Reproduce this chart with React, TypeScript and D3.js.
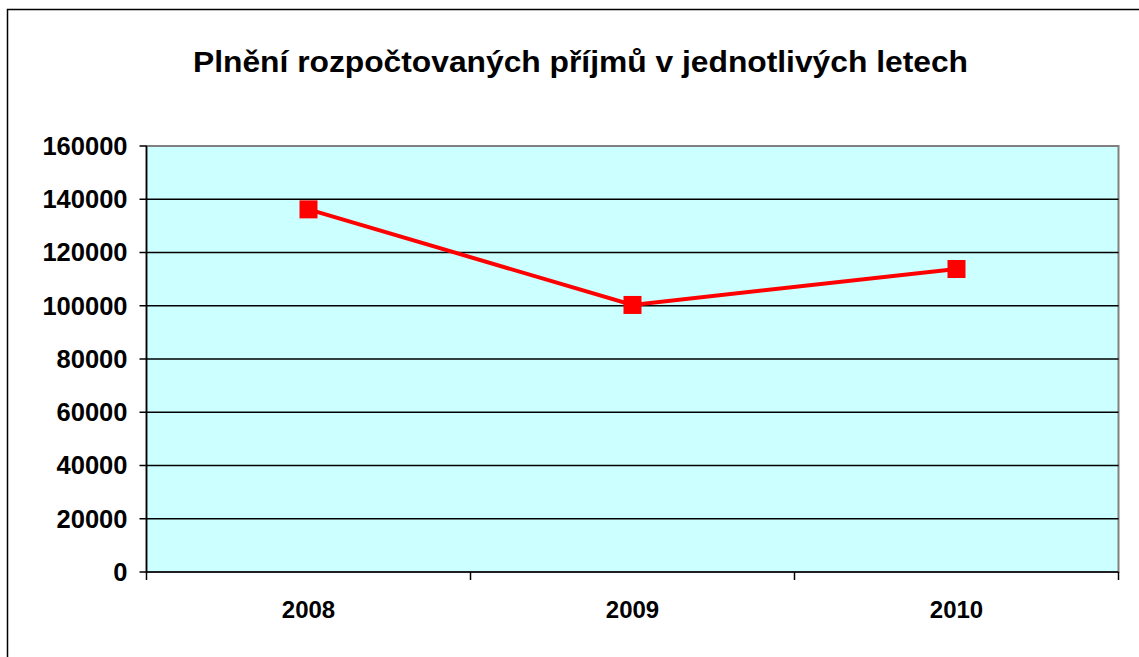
import React from "react";
import * as d3 from "d3";

const title = "Plnění rozpočtovaných příjmů v jednotlivých letech";
const years = ["2008", "2009", "2010"];
const values = [136200, 100300, 113800];
const yTicks = [0, 20000, 40000, 60000, 80000, 100000, 120000, 140000, 160000];

export default function App() {
  const W = 1139, H = 657;
  const left = 146.5, right = 1118.5, top = 146, bottom = 572;
  const x = d3.scaleBand<string>().domain(years).range([left, right]);
  const y = d3.scaleLinear().domain([0, 160000]).range([bottom, top]);
  const line = d3.line<number>()
    .x((_, i) => (x(years[i]) as number) + x.bandwidth() / 2)
    .y((d) => y(d));
  const font = "'Liberation Sans', Arial, sans-serif";
  const boundaries = [...years.map((c) => x(c) as number), right];
  return (
    <svg width={W} height={H} style={{ position: "absolute", left: 0, top: 0 }}>
      <rect x={0} y={0} width={W} height={H} fill="#fff" />
      <rect x={7.5} y={9.5} width={W + 10} height={H + 10} fill="none" stroke="#000" strokeWidth={1.5} />
      <text x={193} y={72} textLength={775} lengthAdjust="spacingAndGlyphs" fontFamily={font} fontWeight="bold" fontSize={29}>{title}</text>
      <rect x={left} y={top} width={right - left} height={bottom - top} fill="#ccffff" stroke="#808080" strokeWidth={2} />
      {yTicks.map((t) => (
        <g key={t}>
          {t > 0 && t < 160000 && (
            <line x1={left} x2={right} y1={y(t)} y2={y(t)} stroke="#000" strokeWidth={1.5} />
          )}
          <line x1={left - 7} x2={left} y1={y(t)} y2={y(t)} stroke="#000" strokeWidth={1.5} />
          <text x={left - 19} y={y(t)} dy="0.35em" textAnchor="end" fontFamily={font} fontWeight="bold" fontSize={25.5}>{t}</text>
        </g>
      ))}
      <line x1={left} x2={left} y1={top} y2={bottom} stroke="#000" strokeWidth={1.5} />
      <line x1={left} x2={right} y1={bottom} y2={bottom} stroke="#000" strokeWidth={1.5} />
      {boundaries.map((b, i) => (
        <line key={i} x1={b} x2={b} y1={bottom} y2={bottom + 8} stroke="#000" strokeWidth={1.5} />
      ))}
      {years.map((c) => (
        <text key={c} x={(x(c) as number) + x.bandwidth() / 2} y={610} dy="0.35em" textAnchor="middle" fontFamily={font} fontWeight="bold" fontSize={24}>{c}</text>
      ))}
      <path d={line(values) || ""} fill="none" stroke="#ff0000" strokeWidth={4} />
      {values.map((v, i) => (
        <rect key={i} x={(x(years[i]) as number) + x.bandwidth() / 2 - 9} y={y(v) - 9} width={18} height={18} fill="#ff0000" />
      ))}
    </svg>
  );
}
